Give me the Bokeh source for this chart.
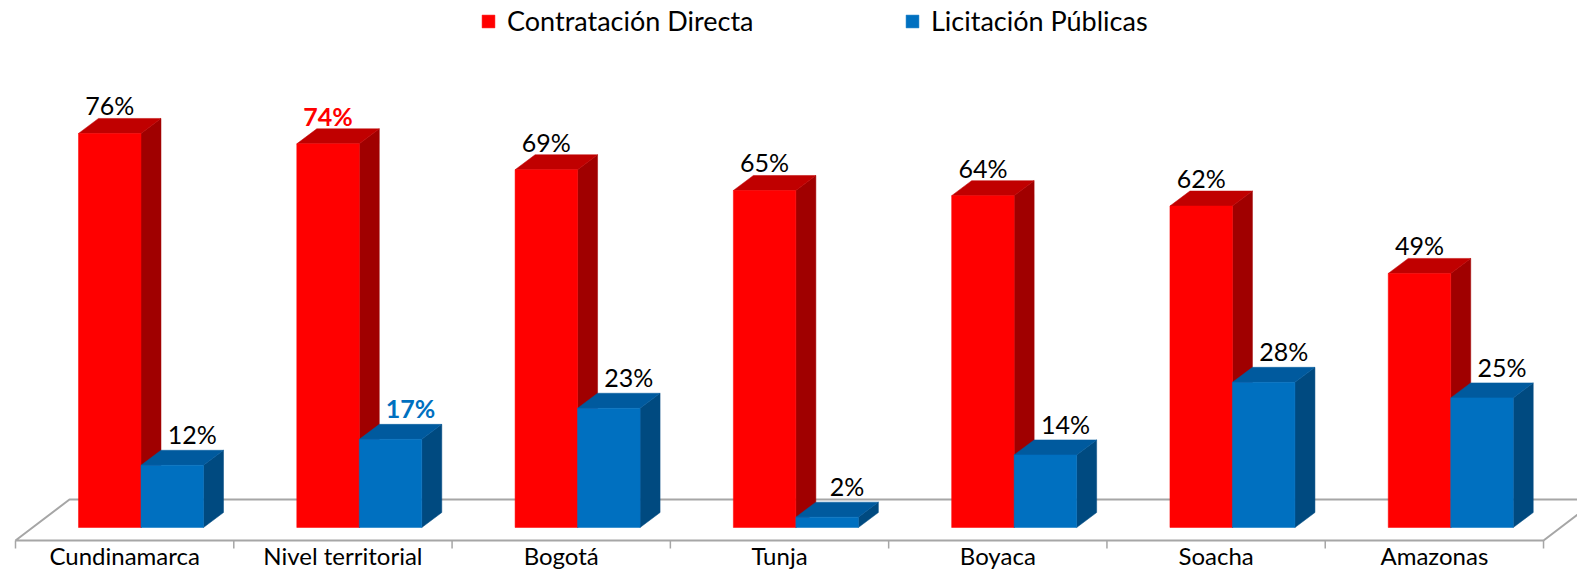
from bokeh.plotting import figure
from bokeh.models import Range1d, Legend, LegendItem, ColumnDataSource
from bokeh.embed import file_html
from bokeh.resources import INLINE
from bokeh.core.properties import value

categories = ["Cundinamarca", "Nivel territorial", "Bogotá", "Tunja", "Boyaca", "Soacha", "Amazonas"]
contratacion_directa = [76, 74, 69, 65, 64, 62, 49]
licitacion_publicas = [12, 17, 23, 2, 14, 28, 25]
series_names = ["Contratación Directa", "Licitación Públicas"]

W, H = 1577, 570
PX_X = 218.29          # px per category
PX_Y = 5.185           # px per percent
x0_px, y0_px = 15, 43  # plot px (from left / from bottom) of data (0, 0)

p = figure(width=W, height=H, output_backend="svg", toolbar_location=None,
           x_axis_type=None, y_axis_type=None, min_border=0,
           x_range=Range1d(-x0_px / PX_X, (W - x0_px) / PX_X),
           y_range=Range1d(-y0_px / PX_Y, (H - y0_px) / PX_Y))
p.outline_line_color = None
p.grid.visible = False
p.background_fill_color = "white"
p.border_fill_color = "white"

n = len(categories)
ddx = 20 / PX_X     # bar depth offset
ddy = 15 / PX_Y
fdx = 54 / PX_X     # floor depth offset
f_front = -13 / PX_Y
f_back = 28 / PX_Y
bw = 0.2863
off_red = 0.2886

# floor
p.patch([0, n, n + fdx, fdx], [f_front, f_front, f_back, f_back],
        fill_color="white", line_color="#A6A6A6", line_width=2)
# ticks
tick_len = 8 / PX_Y
p.segment(x0=list(range(n + 1)), y0=[f_front] * (n + 1),
          x1=list(range(n + 1)), y1=[f_front - tick_len] * (n + 1),
          line_color="#A6A6A6", line_width=1.5)

def bars(vals, offset, front, top, side):
    xs = [i + offset for i in range(n)]
    src = ColumnDataSource(dict(left=xs, right=[x + bw for x in xs],
                                bottom=[0] * n, top=vals))
    tops_x, tops_y, sides_x, sides_y = [], [], [], []
    for x, v in zip(xs, vals):
        tops_x.append([x, x + bw, x + bw + ddx, x + ddx])
        tops_y.append([v, v, v + ddy, v + ddy])
        sides_x.append([x + bw, x + bw + ddx, x + bw + ddx, x + bw])
        sides_y.append([0, ddy, v + ddy, v])
    p.patches(sides_x, sides_y, fill_color=side, line_color=side, line_width=0.5)
    p.patches(tops_x, tops_y, fill_color=top, line_color=top, line_width=0.5)
    r = p.quad(left="left", right="right", bottom="bottom", top="top", source=src,
               fill_color=front, line_color=front, line_width=0.5)
    return r, xs

r_red, xs_red = bars(contratacion_directa, off_red, "#FF0000", "#C00000", "#A00000")
r_blue, xs_blue = bars(licitacion_publicas, off_red + bw, "#0070C0", "#005A9E", "#004A80")

FONT = value("Lato")

# data labels
def labels(vals, xs, dx_px, gap_px, highlight_idx, hl_color):
    for i, (x, v) in enumerate(zip(xs, vals)):
        is_hl = i == highlight_idx
        p.text(x=[x + bw / 2 + dx_px / PX_X], y=[v + ddy + gap_px / PX_Y], text=[f"{v}%"],
               text_font=FONT, text_font_size="25px",
               text_font_style="bold" if is_hl else "normal",
               text_color=hl_color if is_hl else "black",
               text_align="center", text_baseline="bottom")

labels(contratacion_directa, xs_red, 0, -2, 1, "#FF0000")
labels(licitacion_publicas, xs_blue, 20, 1, 1, "#0070C0")

# category labels
p.text(x=[i + 0.5 for i in range(n)], y=[(1 - y0_px) / PX_Y] * n, text=categories,
       text_font=FONT, text_font_size="24px", text_color="black",
       text_align="center", text_baseline="bottom")

legend = Legend(items=[LegendItem(label=series_names[0], renderers=[r_red]),
                       LegendItem(label=series_names[1], renderers=[r_blue])],
                orientation="horizontal", location=(480, 533),
                glyph_width=16, glyph_height=16, label_standoff=11,
                label_width=388, spacing=9, padding=0, margin=0,
                label_text_font="Lato", label_text_font_size="27px",
                label_text_color="black",
                border_line_alpha=0, background_fill_alpha=0)
p.add_layout(legend)

open("out.html", "w").write(file_html(p, INLINE))
